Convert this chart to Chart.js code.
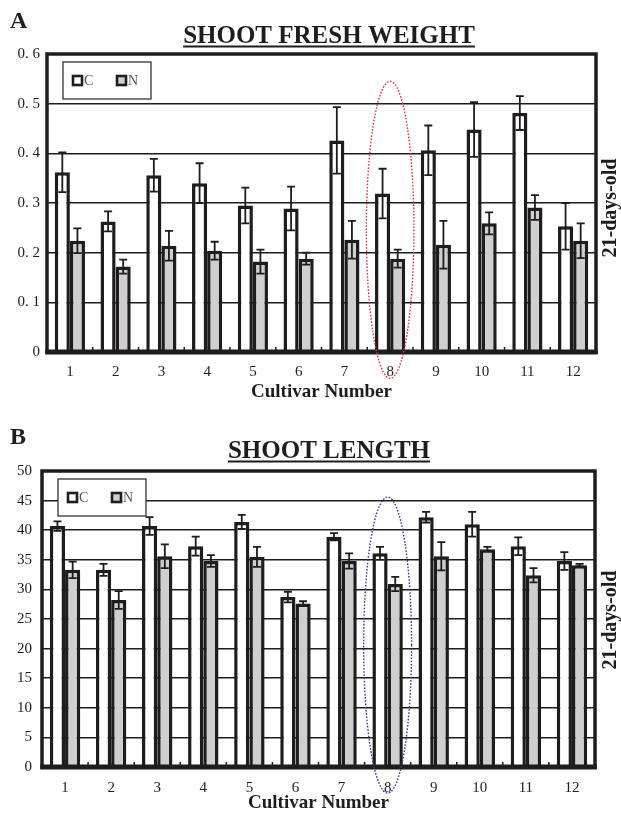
<!DOCTYPE html>
<html><head><meta charset="utf-8">
<script src="https://cdn.jsdelivr.net/npm/chart.js@4.4.0/dist/chart.umd.min.js"></script>
<style>
html,body{margin:0;padding:0;background:#fff;}
#wrap{position:relative;width:621px;height:813px;overflow:hidden;}
#wa{position:absolute;left:0;top:0;width:621px;height:410px;}
#wb{position:absolute;left:0;top:410px;width:621px;height:403px;}
canvas{display:block;}
</style></head><body>
<div id="wrap"><div id="wa"><canvas id="ca" width="621" height="410"></canvas></div><div id="wb"><canvas id="cb" width="621" height="403"></canvas></div></div>
<script>
// ---------- data ----------
const cultivars = ['1','2','3','4','5','6','7','8','9','10','11','12'];
const seriesNames = ['C', 'N'];

const weightC    = [0.362, 0.263, 0.356, 0.340, 0.295, 0.289, 0.426, 0.319, 0.406, 0.448, 0.481, 0.253];
const weightCErr = [0.040, 0.020, 0.033, 0.040, 0.036, 0.044, 0.067, 0.050, 0.050, 0.055, 0.034, 0.047];
const weightN    = [0.224, 0.172, 0.214, 0.204, 0.182, 0.188, 0.226, 0.188, 0.216, 0.259, 0.291, 0.224];
const weightNErr = [0.025, 0.014, 0.030, 0.018, 0.024, 0.012, 0.038, 0.018, 0.048, 0.022, 0.025, 0.035];
const weightTicks = ['0', '0. 1', '0. 2', '0. 3', '0. 4', '0. 5', '0. 6'];

const lengthC    = [40.7, 33.3, 40.7, 37.3, 41.4, 28.7, 38.9, 36.1, 42.2, 41.0, 37.3, 34.8];
const lengthCErr = [0.8, 1.0, 1.5, 1.6, 1.2, 0.9, 0.6, 1.1, 0.9, 2.1, 1.5, 1.5];
const lengthN    = [33.3, 28.2, 35.6, 34.8, 35.5, 27.6, 34.8, 30.9, 35.6, 36.8, 32.4, 34.1];
const lengthNErr = [1.4, 1.5, 2.0, 1.0, 1.7, 0.4, 1.3, 1.2, 2.4, 0.4, 1.2, 0.2];
const lengthTicks = ['0', '5', '10', '15', '20', '25', '30', '35', '40', '45', '50'];

const highlightCultivar = '8';
const weightEllipseRange = [-0.053, 0.545];
const lengthEllipseRange = [-4.4, 45.6];

// ---------- drawing ----------
const SERIF = '"Liberation Serif", "DejaVu Serif", serif';
const INK = '#1f1c1d';

const decorPlugin = {
  id: 'decor',
  afterDatasetsDraw(chart, args, o) {
    const ctx = chart.ctx, ca = chart.chartArea;
    const ys = chart.scales.y, xs = chart.scales.x;
    ctx.save();
    ctx.strokeStyle = INK;
    // error bars
    chart.data.datasets.forEach((ds, di) => {
      const meta = chart.getDatasetMeta(di);
      meta.data.forEach((bar, i) => {
        const v = ds.data[i], e = ds.errors[i];
        const yt = ys.getPixelForValue(v + e), yb = ys.getPixelForValue(v - e);
        const x = bar.x;
        ctx.lineWidth = 1.8;
        ctx.beginPath();
        ctx.moveTo(x, yt); ctx.lineTo(x, yb);
        ctx.moveTo(x - 4, yt); ctx.lineTo(x + 4, yt);
        ctx.moveTo(x - 4, yb); ctx.lineTo(x + 4, yb);
        ctx.stroke();
      });
    });
    // inner ticks between categories
    const n = chart.data.labels.length;
    const cw = (ca.right - ca.left) / n;
    ctx.lineWidth = 1.5;
    for (let i = 1; i < n; i++) {
      const x = ca.left + i * cw;
      ctx.beginPath(); ctx.moveTo(x, ca.bottom); ctx.lineTo(x, ca.bottom - 5); ctx.stroke();
    }
    // frame
    ctx.lineWidth = 3.5;
    ctx.strokeRect(ca.left, ca.top, ca.right - ca.left, ca.bottom - ca.top);
    ctx.lineWidth = 5;
    ctx.beginPath(); ctx.moveTo(ca.left - 1.75, ca.bottom); ctx.lineTo(ca.right + 1.75, ca.bottom); ctx.stroke();
    ctx.restore();
  },
  afterDraw(chart, args, o) {
    const ctx = chart.ctx, ca = chart.chartArea;
    const ys = chart.scales.y, xs = chart.scales.x;
    ctx.save();
    // panel letter
    ctx.fillStyle = INK;
    ctx.font = 'bold 24px ' + SERIF;
    ctx.textAlign = 'left'; ctx.textBaseline = 'alphabetic';
    ctx.fillText(o.letter, 10, o.letterY);
    // title, underlined
    ctx.font = 'bold 25px ' + SERIF;
    ctx.textAlign = 'center';
    ctx.fillText(o.title, o.titleX, o.titleY);
    const w = ctx.measureText(o.title).width;
    ctx.strokeStyle = INK; ctx.lineWidth = 2;
    ctx.beginPath(); ctx.moveTo(o.titleX - w / 2, o.titleY + 3.5); ctx.lineTo(o.titleX + w / 2, o.titleY + 3.5); ctx.stroke();
    // side label
    ctx.save();
    ctx.translate(o.sideX, o.sideY);
    ctx.rotate(-Math.PI / 2);
    ctx.font = 'bold 20px ' + SERIF;
    ctx.textAlign = 'center'; ctx.textBaseline = 'middle';
    ctx.fillText(o.side, 0, 0);
    ctx.restore();
    // legend box
    const bx = ca.left + 16, by = ca.top + 8, bw = 88, bh = 37;
    ctx.fillStyle = '#fff';
    ctx.fillRect(bx, by, bw, bh);
    ctx.strokeStyle = '#333'; ctx.lineWidth = 1.3;
    ctx.strokeRect(bx, by, bw, bh);
    chart.data.datasets.forEach((ds, di) => {
      const sx = bx + 10 + di * 44, sy = by + bh / 2 - 4.5;
      ctx.fillStyle = ds.backgroundColor;
      ctx.fillRect(sx, sy, 9, 9);
      ctx.strokeStyle = INK; ctx.lineWidth = 2.6;
      ctx.strokeRect(sx, sy, 9, 9);
      ctx.fillStyle = '#555';
      ctx.font = '14px ' + SERIF;
      ctx.textAlign = 'left'; ctx.textBaseline = 'middle';
      ctx.fillText(ds.label, sx + 11, by + bh / 2 + 0.5);
    });
    // highlight ellipse
    const idx = chart.data.labels.indexOf(o.highlight);
    const cx = xs.getPixelForValue(idx);
    const cw = (ca.right - ca.left) / chart.data.labels.length;
    const y1 = ys.getPixelForValue(o.range[1]), y0 = ys.getPixelForValue(o.range[0]);
    ctx.strokeStyle = o.ellipseColor; ctx.lineWidth = 1.4;
    ctx.setLineDash([1.6, 1.6]);
    ctx.beginPath();
    ctx.ellipse(cx, (y0 + y1) / 2, cw * 0.52, (y0 - y1) / 2, 0, 0, Math.PI * 2);
    ctx.stroke();
    ctx.restore();
  }
};

function makeChart(id, cfg) {
  return new Chart(document.getElementById(id), {
    type: 'bar',
    data: {
      labels: cultivars,
      datasets: [
        { label: seriesNames[0], data: cfg.c, errors: cfg.cErr, backgroundColor: '#ffffff', borderColor: INK, borderWidth: 3.5 },
        { label: seriesNames[1], data: cfg.n, errors: cfg.nErr, backgroundColor: '#cfcfcf', borderColor: INK, borderWidth: 3.5 }
      ]
    },
    options: {
      responsive: false,
      animation: false,
      devicePixelRatio: 1,
      layout: { padding: { left: 0, right: cfg.padRight, top: cfg.padTop, bottom: 0 } },
      datasets: { bar: { categoryPercentage: 0.66, barPercentage: 1.0, borderSkipped: 'start' } },
      plugins: {
        legend: { display: false },
        tooltip: { enabled: false },
        decor: cfg.decor
      },
      scales: {
        x: {
          grid: { display: false, drawTicks: false },
          border: { display: false },
          ticks: { color: INK, font: { family: SERIF, size: 15 }, padding: cfg.xTickPad },
          title: { display: true, text: 'Cultivar Number', color: INK, font: { family: SERIF, size: 19, weight: 'bold', lineHeight: 1 }, padding: { top: 0, bottom: cfg.xTitlePad } },
          afterFit: s => { s.height = cfg.xHeight; }
        },
        y: {
          min: 0, max: cfg.max,
          grid: { color: INK, lineWidth: 1.5, drawTicks: false },
          border: { display: false },
          ticks: {
            stepSize: cfg.step,
            color: INK,
            font: { family: SERIF, size: 15 },
            padding: cfg.yTickPad,
            callback: v => cfg.tickLabels[Math.round(v / cfg.step)]
          },
          afterFit: s => { s.width = cfg.yWidth; }
        }
      }
    },
    plugins: [decorPlugin]
  });
}

makeChart('ca', {
  c: weightC, cErr: weightCErr, n: weightN, nErr: weightNErr,
  max: 0.6, step: 0.1, tickLabels: weightTicks,
  padRight: 25, padTop: 54, yWidth: 47, xHeight: 58,
  xTickPad: 11, xTitlePad: 8, yTickPad: 7,
  decor: { letter: 'A', letterY: 28, title: 'SHOOT FRESH WEIGHT', titleX: 329, titleY: 43,
           side: '21-days-old', sideX: 611, sideY: 208,
           highlight: highlightCultivar, range: weightEllipseRange, ellipseColor: '#e8303a' }
});

makeChart('cb', {
  c: lengthC, cErr: lengthCErr, n: lengthN, nErr: lengthNErr,
  max: 50, step: 5, tickLabels: lengthTicks,
  padRight: 26, padTop: 61, yWidth: 42, xHeight: 46,
  xTickPad: 12, xTitlePad: 0, yTickPad: 10,
  decor: { letter: 'B', letterY: 34, title: 'SHOOT LENGTH', titleX: 329, titleY: 48,
           side: '21-days-old', sideX: 611, sideY: 210,
           highlight: highlightCultivar, range: lengthEllipseRange, ellipseColor: '#3a3a9e' }
});
</script>
</body></html>
